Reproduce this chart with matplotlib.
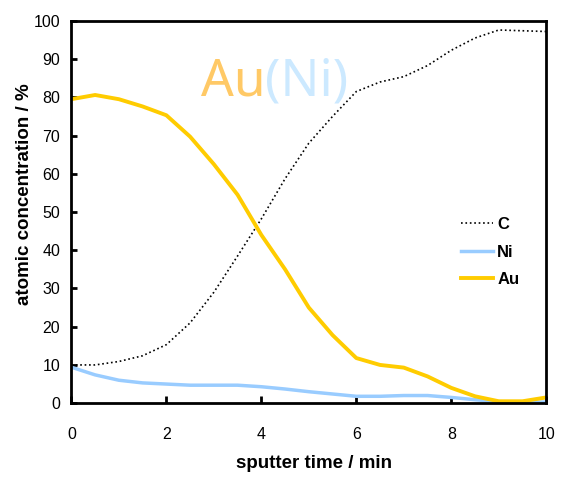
import numpy as np
import matplotlib.pyplot as plt

# sputter time (min)
t = [0, 0.5, 1, 1.5, 2, 2.5, 3, 3.5, 4, 4.5, 5, 5.5, 6, 6.5, 7, 7.5, 8, 8.5, 9, 9.5, 10]

# atomic concentration (%)
c_vals = [10, 10, 10.9, 12.4, 15.3, 21, 29, 38.5, 48.2, 58.7, 68, 75, 81.5, 84, 85.4, 88.3, 92.3, 95.5, 97.6, 97.4, 97.2]
ni_vals = [9.4, 7.4, 6, 5.3, 5, 4.7, 4.7, 4.7, 4.3, 3.7, 3, 2.4, 1.8, 1.8, 2, 2, 1.5, 0.9, 0.4, 0.2, 0.3]
au_vals = [79.5, 80.6, 79.5, 77.6, 75.3, 69.7, 62.5, 54.5, 44, 35, 25, 17.8, 11.8, 10, 9.3, 7, 4, 1.8, 0.5, 0.5, 1.5]

plt.rcParams['font.family'] = ['Liberation Sans', 'DejaVu Sans']

fig = plt.figure(figsize=(5.62, 4.84), dpi=100)
ax = fig.add_axes([0.127, 0.167, 0.845, 0.790])

ax.plot(t, c_vals, color='black', linestyle=':', linewidth=1.2, label='C')
ax.plot(t, ni_vals, color='#99ccff', linewidth=2.5, label='Ni')
ax.plot(t, au_vals, color='#ffcc00', linewidth=2.8, label='Au')

ax.set_xlim(0, 10)
ax.set_ylim(0, 100)
ax.set_xticks(range(0, 11, 2))
ax.set_yticks(range(0, 101, 10))
ax.tick_params(axis='x', direction='in', length=5, width=2, labelsize=11.5, pad=17)
ax.tick_params(axis='y', direction='in', length=4, width=2, labelsize=11.5, pad=8)
for s in ax.spines.values():
    s.set_linewidth(2)

ax.set_xlabel("sputter time / min", fontsize=13.5, fontweight='bold', va='top')
ax.xaxis.set_label_coords(0.511, -0.136)
ax.set_ylabel("atomic concentration / %", fontsize=13.5, fontweight='bold')
ax.yaxis.set_label_coords(-0.08, 0.546)

# title text inside the plot
au_txt = ax.text(0.272, 0.804, "Au", transform=ax.transAxes, fontsize=37, color='#ffc966',
                 family='Noto Sans', va='baseline')
ax.annotate("(Ni)", xy=(1, 0), xycoords=au_txt, fontsize=37, color='#cce9ff',
            family='Noto Sans', va='bottom', ha='left')

leg = ax.legend(loc='center right', bbox_to_anchor=(0.975, 0.395), frameon=False,
                handlelength=1.9, handletextpad=0.25, labelspacing=0.75,
                prop={'weight': 'bold', 'size': 12})

fig.savefig("out.png", dpi=100)
